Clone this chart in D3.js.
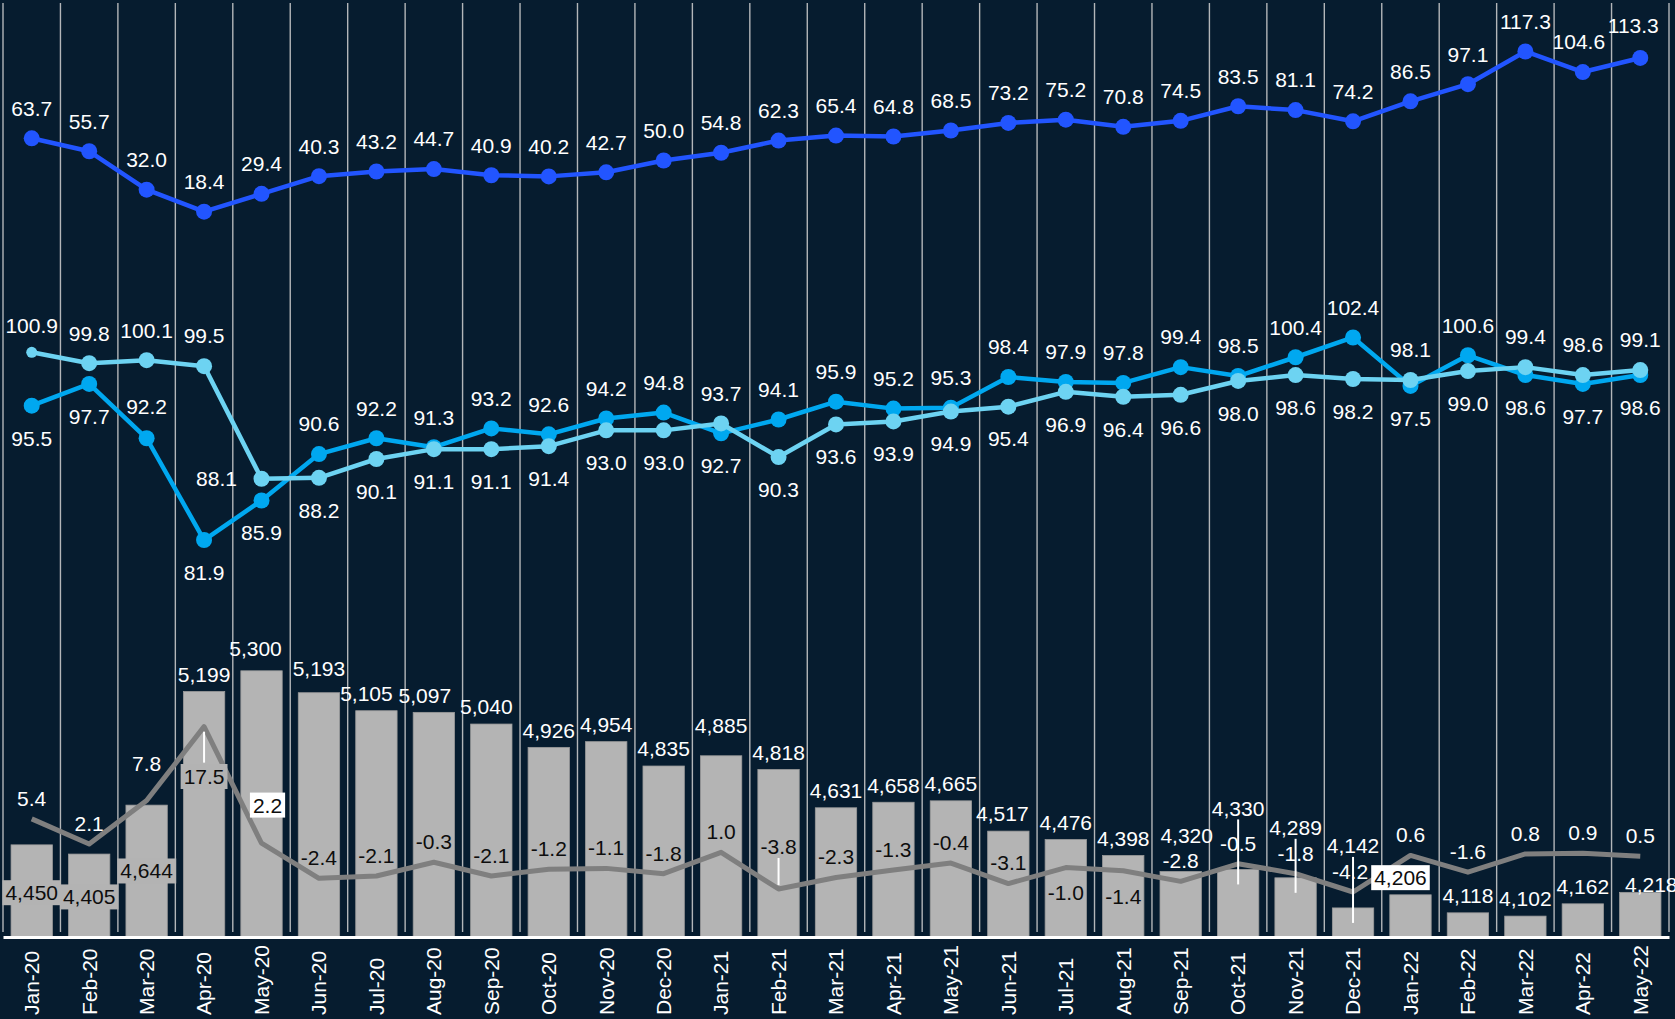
<!DOCTYPE html>
<html>
<head>
<meta charset="utf-8">
<script src="https://cdn.jsdelivr.net/npm/d3@7"></script>
<style>
  body { margin: 0; background: #061c2f; }
  svg text { font-family: "Liberation Sans", Arial, sans-serif; font-size: 21px; }
</style>
</head>
<body>
<svg id="chart" width="1675" height="1019"></svg>
<script>
const months = ['Jan-20','Feb-20','Mar-20','Apr-20','May-20','Jun-20','Jul-20','Aug-20','Sep-20','Oct-20','Nov-20','Dec-20',
  'Jan-21','Feb-21','Mar-21','Apr-21','May-21','Jun-21','Jul-21','Aug-21','Sep-21','Oct-21','Nov-21','Dec-21',
  'Jan-22','Feb-22','Mar-22','Apr-22','May-22'];

const topIndex = [63.7,55.7,32.0,18.4,29.4,40.3,43.2,44.7,40.9,40.2,42.7,50.0,
  54.8,62.3,65.4,64.8,68.5,73.2,75.2,70.8,74.5,83.5,81.1,74.2,86.5,97.1,117.3,104.6,113.3];

const midIndex = [95.5,97.7,92.2,81.9,85.9,90.6,92.2,91.3,93.2,92.6,94.2,94.8,
  92.7,94.1,95.9,95.2,95.3,98.4,97.9,97.8,99.4,98.5,100.4,102.4,97.5,100.6,98.6,97.7,98.6];

const lightIndex = [100.9,99.8,100.1,99.5,88.1,88.2,90.1,91.1,91.1,91.4,93.0,93.0,
  93.7,90.3,93.6,93.9,94.9,95.4,96.9,96.4,96.6,98.0,98.6,98.2,98.1,99.0,99.4,98.6,99.1];

const volume = [4450,4405,4644,5199,5300,5193,5105,5097,5040,4926,4954,4835,
  4885,4818,4631,4658,4665,4517,4476,4398,4320,4330,4289,4142,4206,4118,4102,4162,4218];

const volumeChange = [5.4,2.1,7.8,17.5,2.2,-2.4,-2.1,-0.3,-2.1,-1.2,-1.1,-1.8,
  1.0,-3.8,-2.3,-1.3,-0.4,-3.1,-1.0,-1.4,-2.8,-0.5,-1.8,-4.2,0.6,-1.6,0.8,0.9,0.5];

// hand placed labels, as in the original
const barNudge = {
  'Jan-20': { dy: 48, box: '#b3b3b3' },
  'Feb-20': { dy: 43, box: '#b3b3b3' },
  'Mar-20': { dy: 66, box: '#b3b3b3' },
  'May-20': { dx: -6, dy: -22 },
  'Jun-20': { dy: -24 },
  'Jul-20': { dx: -10 }, 'Aug-20': { dx: -9 }, 'Sep-20': { dx: -5 },
  'Jan-21': { dy: -30 },
  'Jun-21': { dx: -6 },
  'Sep-21': { dx: 6, dy: -36 },
  'Oct-21': { dy: -61, leader: true },
  'Nov-21': { dy: -50, leader: true },
  'Dec-21': { dy: -62, leader: true },
  'Jan-22': { dx: -10, box: '#ffffff' },
  'May-22': { dx: 11, dy: -8 }
};
const pctNudge = {
  'Mar-20': { dy: -37 },
  'Apr-20': { dy: 50, box: '#b3b3b3', leader: true },
  'May-20': { dx: 6, dy: -38, box: '#ffffff' },
  'Feb-21': { dy: -42, leader: true },
  'Jul-21': { dy: 25 },
  'Aug-21': { dy: 26 },
  'Dec-21': { dx: -3 }
};
const topNudge = { 'Apr-22': { dx: -4 }, 'May-22': { dx: -7, dy: -32 } };

const svg = d3.select('#chart');

const x = d3.scaleBand().domain(months).range([3, 1669]);
const cx = m => x(m) + x.bandwidth() / 2;
const barW = x.bandwidth() * 0.72;

const yTop = d3.scaleLinear().domain([0, 120]).range([241.5, 47.1]);
const yMid = d3.scaleLinear().domain([80, 105]).range([558.8, 311.8]);
const yBar = d3.scaleLinear().domain([4000, 5300]).range([937, 670.8]);
const yPct = d3.scaleLinear().domain([-5, 20]).range([898.1, 707.6]);

// vertical gridlines on the band edges
svg.append('g')
  .selectAll('line')
  .data(months.map(m => x(m)).concat([x.range()[1]]))
  .enter()
  .append('line')
  .attr('x1', d => d).attr('x2', d => d)
  .attr('y1', 3).attr('y2', 932)
  .attr('stroke', '#b3b6b9')
  .attr('stroke-width', 1.4);

// bars
svg.append('g')
  .selectAll('rect')
  .data(volume)
  .enter()
  .append('rect')
  .attr('x', (d, i) => cx(months[i]) - barW / 2)
  .attr('y', d => yBar(d))
  .attr('width', barW)
  .attr('height', d => yBar(4000) - yBar(d))
  .attr('fill', '#b4b4b4')
  .attr('stroke', '#9a9a9a')
  .attr('stroke-width', 0.8);

// x axis
const axis = svg.append('g')
  .attr('transform', 'translate(0,937)')
  .call(d3.axisBottom(x).tickSize(0).tickSizeOuter(0));
axis.select('.domain').attr('stroke', '#ffffff').attr('stroke-width', 3);
axis.selectAll('text')
  .attr('transform', 'rotate(-90)')
  .attr('x', -78).attr('y', 0).attr('dy', '0.35em')
  .attr('text-anchor', 'start')
  .attr('fill', '#ffffff')
  .style('font-size', '21px')
  .style('font-family', '"Liberation Sans", Arial, sans-serif');

function drawLine(values, y, color, width, r) {
  const line = d3.line().x((d, i) => cx(months[i])).y(d => y(d));
  svg.append('path')
    .datum(values)
    .attr('d', line)
    .attr('fill', 'none')
    .attr('stroke', color)
    .attr('stroke-width', width)
    .attr('stroke-linejoin', 'round');
  if (r) {
    svg.append('g')
      .selectAll('circle')
      .data(values)
      .enter()
      .append('circle')
      .attr('cx', (d, i) => cx(months[i]))
      .attr('cy', d => y(d))
      .attr('r', (d, i) => (color === '#6dd3f2' && i === 0) ? 5.5 : r)
      .attr('fill', color);
  }
}

drawLine(volumeChange, yPct, '#7f7f7f', 5, 0);
drawLine(topIndex, yTop, '#2255ff', 4.5, 8);
drawLine(midIndex, yMid, '#00a8f0', 4.5, 8);
drawLine(lightIndex, yMid, '#6dd3f2', 4.5, 8);

const labels = svg.append('g');
const leaders = [];

function addLabel(px, py, txt, o = {}) {
  const g = labels.append('g');
  const t = g.append('text')
    .attr('x', px).attr('y', py).attr('dy', '0.35em')
    .attr('text-anchor', o.anchor || 'middle')
    .attr('fill', o.color || '#ffffff')
    .text(txt);
  if (o.box) {
    const b = t.node().getBBox();
    g.insert('rect', 'text')
      .attr('x', b.x - 3).attr('y', b.y - 1)
      .attr('width', b.width + 6).attr('height', b.height + 2)
      .attr('fill', o.box);
  }
}

// plain hyphen for negatives, like the original
const locale = d3.formatLocale({ decimal: '.', thousands: ',', grouping: [3], currency: ['', ''], minus: '-' });
const f1 = locale.format('.1f');
const fc = locale.format(',');

// top index labels
topIndex.forEach((v, i) => {
  const n = topNudge[months[i]] || {};
  addLabel(cx(months[i]) + (n.dx || 0), yTop(v) + (n.dy || -30), f1(v));
});

// middle index labels: higher one goes above, lower one below
months.forEach((m, i) => {
  const a = midIndex[i], b = lightIndex[i];
  let aDy = a >= b ? -30 : 32.5;
  let bDy = b > a ? (i === 0 ? -27 : -30) : 32.5;
  if (m === 'Mar-20') aDy = -32;
  addLabel(cx(m), yMid(a) + aDy, f1(a));
  if (m === 'May-20') addLabel(cx(m) - 45, yMid(b), f1(b));
  else addLabel(cx(m), yMid(b) + bDy, f1(b));
});

// bar labels
volume.forEach((v, i) => {
  const m = months[i];
  const n = barNudge[m] || {};
  const py = yBar(v) + (n.dy !== undefined ? n.dy : -17);
  addLabel(cx(m) + (n.dx || 0), py, fc(v), { box: n.box, color: n.box ? '#0d0d0d' : '#ffffff' });
  if (n.leader) leaders.push([cx(m), py + 11, yBar(v) + 15]);
});

// volume change labels
volumeChange.forEach((v, i) => {
  const m = months[i];
  const n = pctNudge[m] || {};
  const py = yPct(v) + (n.dy !== undefined ? n.dy : -20.5);
  const inside = py > yBar(volume[i]);
  addLabel(cx(m) + (n.dx || 0), py, f1(v), { box: n.box, color: (n.box || inside) ? '#0d0d0d' : '#ffffff' });
  if (n.leader) {
    if (py > yPct(v)) leaders.push([cx(m), yPct(v) + 5, py - 14]);
    else leaders.push([cx(m), py + 11, yPct(v) - 4]);
  }
});

svg.append('g')
  .selectAll('line')
  .data(leaders)
  .enter()
  .append('line')
  .attr('x1', d => d[0]).attr('x2', d => d[0])
  .attr('y1', d => d[1]).attr('y2', d => d[2])
  .attr('stroke', '#ffffff')
  .attr('stroke-width', 2);
</script>
</body>
</html>
